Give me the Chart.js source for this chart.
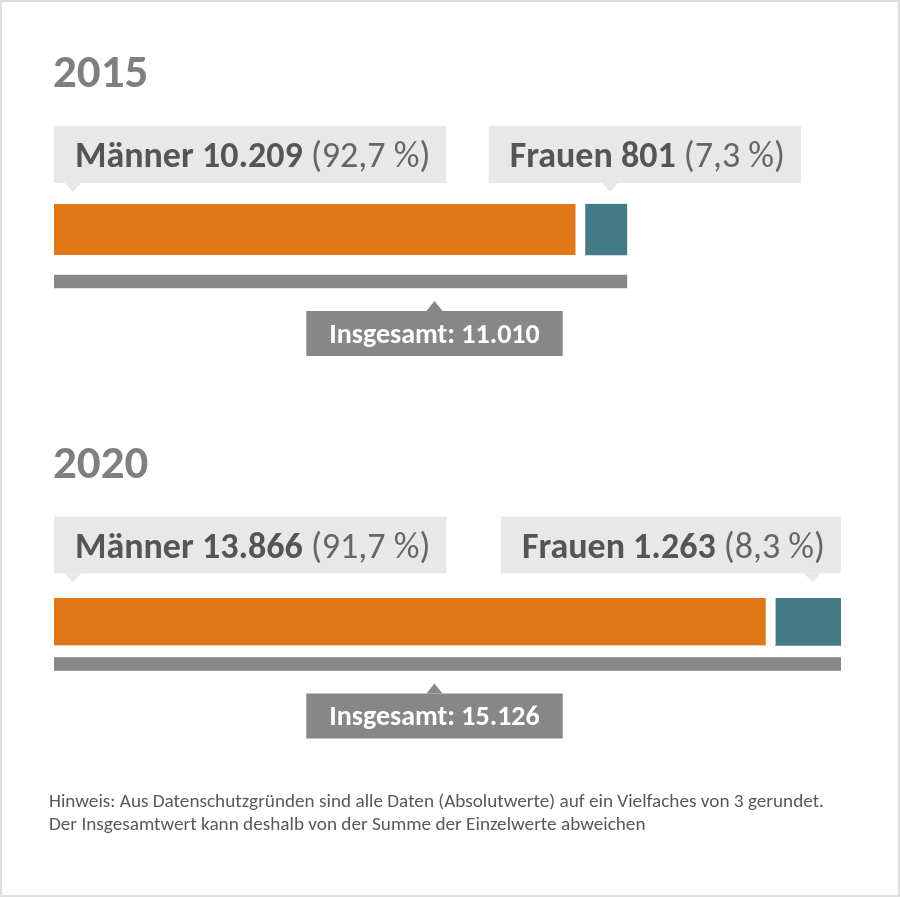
<!DOCTYPE html>
<html lang="de">
<head>
<meta charset="utf-8">
<script src="https://cdn.jsdelivr.net/npm/chart.js@4.4.1/dist/chart.umd.min.js"></script>
<style>
  html, body { margin: 0; padding: 0; background: #fff; }
  #wrap { position: relative; width: 900px; height: 897px; box-sizing: border-box; border: 2px solid #dedede; overflow: hidden; }
  canvas { position: absolute; left: -2px; top: -2px; }
  #note { position: absolute; left: 47px; top: 787px; font-family: Carlito, Lato, "Open Sans", sans-serif; font-size: 19.2px; line-height: 23px; color: #595959; white-space: nowrap; }
</style>
</head>
<body>
<div id="wrap">
  <canvas id="c2015" width="900" height="897"></canvas>
  <canvas id="c2020" width="900" height="897"></canvas>
  <div id="note">Hinweis: Aus Datenschutzgründen sind alle Daten (Absolutwerte) auf ein Vielfaches von 3 gerundet.<br>Der Insgesamtwert kann deshalb von der Summe der Einzelwerte abweichen</div>
</div>
<script>
// ---- data ----
const years = ['2015', '2020'];
const categories = ['Geschlecht', 'Insgesamt'];
const maenner = [10209, 13866];
const frauen = [801, 1263];
const insgesamt = [11010, 15126];
const maennerPct = ['92,7 %', '91,7 %'];
const frauenPct = ['7,3 %', '8,3 %'];
const labelMaenner = 'Männer';
const labelFrauen = 'Frauen';
const labelTotal = 'Insgesamt';

// ---- styles ----
const FONT = 'Carlito, Lato, "Open Sans", sans-serif';
const C_ORANGE = '#E0781A';
const C_TEAL = '#437A86';
const C_GRAY = '#878787';
const C_BOX = '#E8E8E8';
const C_TEXT = '#555555';
const C_TEXT_LIGHT = '#666666';
const C_TITLE = '#7f7f7f';

function fmt(n) { return String(n).replace(/\B(?=(\d{3})+(?!\d))/g, '.'); }

function drawBox(ctx, x, y, w, h, fill, px, dir, ph) {
  ctx.fillStyle = fill;
  ctx.fillRect(x, y, w, h);
  ctx.beginPath();
  if (dir === 'down') {
    ctx.moveTo(px - 8, y + h); ctx.lineTo(px, y + h + ph); ctx.lineTo(px + 8, y + h);
  } else {
    ctx.moveTo(px - 8, y); ctx.lineTo(px, y - ph); ctx.lineTo(px + 8, y);
  }
  ctx.closePath();
  ctx.fill();
}

function twoPart(ctx, boldTxt, regTxt, size) {
  ctx.font = 'bold ' + size + 'px ' + FONT;
  const w1 = ctx.measureText(boldTxt).width;
  ctx.font = size + 'px ' + FONT;
  const w2 = ctx.measureText(regTxt).width;
  return { w1, w2, w: w1 + w2 };
}
function drawTwoPart(ctx, boldTxt, regTxt, size, x, base) {
  ctx.textAlign = 'left';
  ctx.textBaseline = 'alphabetic';
  ctx.font = 'bold ' + size + 'px ' + FONT;
  ctx.fillStyle = C_TEXT;
  ctx.fillText(boldTxt, x, base);
  const w1 = ctx.measureText(boldTxt).width;
  ctx.font = size + 'px ' + FONT;
  ctx.fillStyle = C_TEXT_LIGHT;
  ctx.fillText(regTxt, x + w1, base);
}

const calloutPlugin = {
  id: 'callouts',
  afterDatasetsDraw(chart, args, opts) {
    const i = opts.idx;
    const ctx = chart.ctx;
    const ca = chart.chartArea;
    const mMen = chart.getDatasetMeta(0).data[0].getProps(['x', 'y', 'base', 'height'], true);
    const mWom = chart.getDatasetMeta(1).data[0].getProps(['x', 'y', 'base', 'height'], true);
    const mTot = chart.getDatasetMeta(2).data[1].getProps(['x', 'y', 'base', 'height'], true);
    const barTop = mMen.y - mMen.height / 2;
    const totBottom = mTot.y + mTot.height / 2;
    ctx.save();

    // title
    ctx.font = 'bold 47px ' + FONT;
    ctx.fillStyle = C_TITLE;
    ctx.textAlign = 'left';
    ctx.textBaseline = 'alphabetic';
    ctx.fillText(years[i], ca.left - 1, barTop - 117);

    const size = 36;
    const capH = size * 0.72;
    const boxH = 57;
    const boxTop = barTop - 78;
    const base = boxTop + boxH / 2 + capH / 2;
    const padL = 21, padR = 16;

    // Männer callout
    const mB = labelMaenner + ' ' + fmt(maenner[i]) + ' ';
    const mR = '(' + maennerPct[i] + ')';
    const mw = twoPart(ctx, mB, mR, size);
    const mx = ca.left;
    const mW = mw.w + padL + padR;
    drawBox(ctx, mx, boxTop, mW, boxH, C_BOX, ca.left + 19, 'down', 9);
    drawTwoPart(ctx, mB, mR, size, mx + padL, base);

    // Frauen callout
    const fB = labelFrauen + ' ' + fmt(frauen[i]) + ' ';
    const fR = '(' + frauenPct[i] + ')';
    const fw = twoPart(ctx, fB, fR, size);
    const fW = fw.w + padL + padR;
    const fCenter = (Math.min(mWom.x, mWom.base) + Math.max(mWom.x, mWom.base)) / 2;
    const fRight = Math.min(ca.right, fCenter + 195);
    const fx = fRight - fW;
    const fPtr = Math.min(fCenter + 4, fRight - 20);
    drawBox(ctx, fx, boxTop, fW, boxH, C_BOX, fPtr, 'down', 9);
    drawTwoPart(ctx, fB, fR, size, fx + padL, base);

    // Insgesamt callout
    const tSize = 28;
    ctx.font = 'bold ' + tSize + 'px ' + FONT;
    const tTxt = labelTotal + ': ' + fmt(insgesamt[i]);
    const tw = ctx.measureText(tTxt).width;
    const tW = tw + 46;
    const tH = 45;
    const tTop = totBottom + 23;
    const tCx = ca.left + 380.5;
    drawBox(ctx, tCx - tW / 2, tTop, tW, tH, C_GRAY, tCx, 'up', 10);
    ctx.fillStyle = '#ffffff';
    ctx.textAlign = 'center';
    ctx.textBaseline = 'alphabetic';
    ctx.fillText(tTxt, tCx, tTop + tH / 2 + tSize * 0.72 / 2 - 1);

    ctx.restore();
  }
};

function makeChart(id, i, padTop, padBottom) {
  return new Chart(document.getElementById(id), {
    type: 'bar',
    data: {
      labels: categories,
      datasets: [
        { label: labelMaenner, data: [maenner[i], null], backgroundColor: C_ORANGE,
          borderColor: '#ffffff', borderWidth: { left: 0, top: 0, bottom: 0, right: 10 }, borderSkipped: false,
          barThickness: 51, stack: 's' },
        { label: labelFrauen, data: [frauen[i], null], backgroundColor: C_TEAL,
          borderWidth: 0, barThickness: 51, stack: 's' },
        { label: labelTotal, data: [null, insgesamt[i]], backgroundColor: C_GRAY,
          borderWidth: 0, barThickness: 13, stack: 's' }
      ]
    },
    options: {
      indexAxis: 'y',
      responsive: false,
      animation: false,
      events: [],
      layout: { padding: { left: 54, right: 59, top: padTop, bottom: padBottom } },
      scales: {
        x: { type: 'linear', min: 0, max: Math.max(...insgesamt), stacked: true, display: false },
        y: { type: 'category', stacked: true, display: false }
      },
      plugins: {
        legend: { display: false },
        tooltip: { enabled: false },
        callouts: { idx: i }
      }
    },
    plugins: [calloutPlugin]
  });
}

makeChart('c2015', 0, 203.5, 897 - 307.5);
makeChart('c2020', 1, 598, 897 - 686);
</script>
</body>
</html>
